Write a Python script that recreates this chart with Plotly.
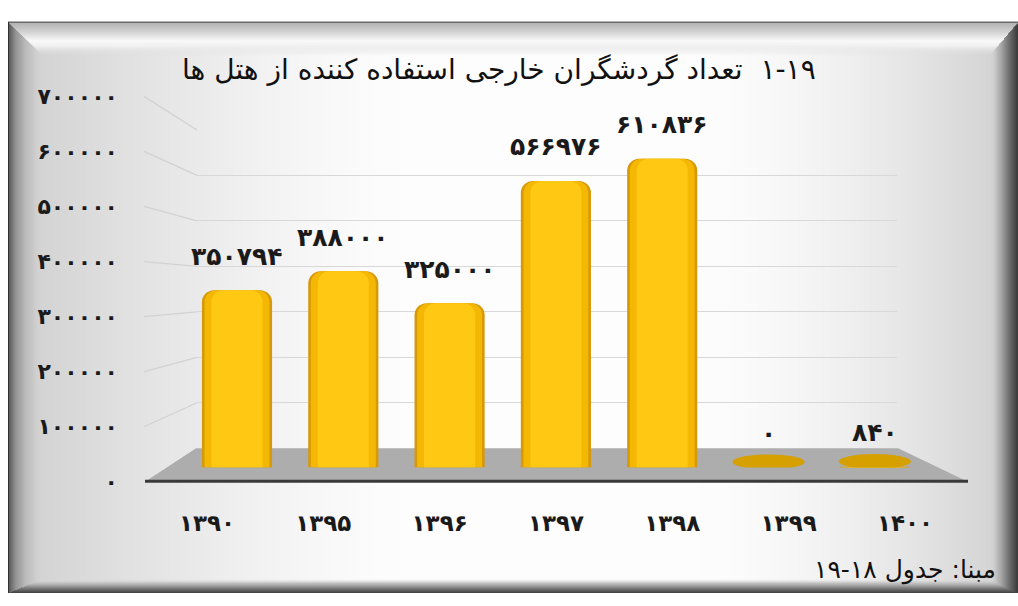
import base64
import struct
import zlib

import numpy as np
import plotly.graph_objects as go

# ---------------- data ----------------
years = ["۱۳۹۰", "۱۳۹۵", "۱۳۹۶", "۱۳۹۷", "۱۳۹۸", "۱۳۹۹", "۱۴۰۰"]
guests = [350794, 388000, 325000, 566976, 610836, 0, 840]
y_ticks = [0, 100000, 200000, 300000, 400000, 500000, 600000, 700000]

title_text = "\u200f" + "۱-۱۹" + "  " + "تعداد گردشگران خارجی استفاده کننده از هتل ها"
source_text = "مبنا: جدول ۱۸-۱۹"

FA = str.maketrans("0123456789", "۰۱۲۳۴۵۶۷۸۹")


def fa(n):
    return str(n).translate(FA)


W, H = 1018, 606
FONT = "DejaVu Sans"


def px(x):
    return x / W


def py(y):
    return 1 - y / H


# ---------------- framed gradient background ----------------
def png_uri(img):
    h, w, _ = img.shape
    raw = b"".join(b"\x00" + img[r].tobytes() for r in range(h))

    def chunk(tag, data):
        return (struct.pack(">I", len(data)) + tag + data
                + struct.pack(">I", zlib.crc32(tag + data) & 0xFFFFFFFF))

    data = (b"\x89PNG\r\n\x1a\n"
            + chunk(b"IHDR", struct.pack(">IIBBBBB", w, h, 8, 2, 0, 0, 0))
            + chunk(b"IDAT", zlib.compress(raw, 9))
            + chunk(b"IEND", b""))
    return "data:image/png;base64," + base64.b64encode(data).decode()


yy, xx = np.mgrid[0:H, 0:W].astype(float)
inner = (253
         - 46 * np.clip((400 - xx) / 390, 0, 1) ** 1.4
         - 40 * np.clip((xx - 700) / 290, 0, 1) ** 1.6)

dt = (yy - 11) / 34
dl = (xx - 9) / 33
dr = (1017 - xx) / 28
db = (605 - yy) / 14
stack = np.stack([dt, dl, dr, db])
which = np.argmin(stack, axis=0)
tmin = np.min(stack, axis=0)

profiles = [
    ([0, 0.25, 0.55, 0.75, 1.0], [180, 208, 250, 238, 222]),   # top
    ([0, 0.2, 0.5, 0.8, 1.0], [95, 150, 188, 205, 212]),       # left
    ([0, 0.3, 0.6, 0.85, 1.0], [60, 110, 170, 200, 212]),      # right
    ([0, 0.3, 0.6, 0.85, 1.0], [70, 120, 180, 210, 225]),      # bottom
]
bevel = np.zeros_like(inner)
tc = np.clip(tmin, 0, 1)
for k, (tp, vp) in enumerate(profiles):
    m = which == k
    bevel[m] = np.interp(tc[m], tp, vp)
s = np.clip((tmin - 0.7) / 0.3, 0, 1)
gray = np.where(tmin < 1, bevel * (1 - s) + inner * s, inner)
gray[(yy < 10) | (xx < 8)] = 255
gray[(yy == 10) & (xx >= 8)] = 50
gray[(xx == 8) & (yy >= 10)] = 50
g8 = np.clip(gray, 0, 255).astype(np.uint8)
bg = np.dstack([g8, g8, g8])

# ---------------- geometry of the three scales ----------------
# bars (front plane)
BAR_X0, BAR_STEP = 237, 106.3
BAR_Y0, BAR_PX = 475, 52.7 / 100000
# tick labels (front edge)
LAB_X0, LAB_STEP = 207, 116.33
LAB_Y0, LAB_PX = 490, 402 / 700000
# back wall gridlines
WALL_L, WALL_R = 197, 897
WALL_Y0, WALL_PX = 455, 332 / 700000
YMAX = 700000

n = len(years)
idx = list(range(n))

fig = go.Figure()

# gridline subplot (drawn first, underneath everything)
fig.add_trace(go.Scatter(x=[0, 1], y=[0, YMAX], mode="markers",
                         marker=dict(opacity=0), hoverinfo="skip",
                         showlegend=False, xaxis="x", yaxis="y"))
# tick-label subplot
fig.add_trace(go.Scatter(x=years, y=guests, mode="markers",
                         marker=dict(opacity=0), hoverinfo="skip",
                         showlegend=False, xaxis="x2", yaxis="y2"))

# bars: layered widths give a rounded, shaded column look
for width, color in [(0.66, "#D6990A"), (0.61, "#F4B804"), (0.48, "#FFC913")]:
    fig.add_trace(go.Bar(x=idx, y=guests, width=width, marker_color=color,
                         marker_line_width=0, hoverinfo="skip",
                         showlegend=False, xaxis="x3", yaxis="y3"))

shapes = []
# floor
floor_path = (f"M {px(145)},{py(490)} L {px(WALL_L - 1)},{py(WALL_Y0)} "
              f"L {px(WALL_R + 1)},{py(WALL_Y0)} L {px(968)},{py(490)} Z")
shapes.append(dict(type="path", path=floor_path, xref="paper", yref="paper",
                   fillcolor="#adadad", line_width=0, layer="below"))
shapes.append(dict(type="line", xref="paper", yref="paper",
                   x0=px(145), x1=px(968), y0=py(489.5), y1=py(489.5),
                   line=dict(color="#3a3a3a", width=3), layer="below"))
# side-wall gridline segments joining the tick labels to the back wall
for v in y_ticks[1:]:
    shapes.append(dict(type="line", xref="paper", yref="paper",
                       x0=px(144), y0=py(LAB_Y0 - v * LAB_PX),
                       x1=px(WALL_L), y1=py(WALL_Y0 - v * WALL_PX),
                       line=dict(color="#d2d2d2", width=1.3), layer="below"))
# flat tops of (near) zero-height bars
for i, v in enumerate(guests):
    if v < 0.01 * max(guests):
        shapes.append(dict(type="circle", xref="x3", yref="y3",
                           x0=i - 0.34, x1=i + 0.34,
                           ysizemode="pixel", yanchor=v, y0=-2, y1=13,
                           fillcolor="#D6A000", line_width=0))

annotations = []
for i, v in enumerate(guests):
    annotations.append(dict(x=i, y=v, xref="x3", yref="y3", yshift=34,
                            text=fa(v), showarrow=False,
                            font=dict(family=FONT, size=25, color="#1a1a1a",
                                      weight="bold")))
annotations.append(dict(x=px(499), y=py(60), xref="paper", yref="paper",
                        text=title_text, showarrow=False, yanchor="middle",
                        font=dict(family=FONT, size=28, color="#111111")))
annotations.append(dict(x=px(998), y=py(582), xref="paper", yref="paper",
                        text=source_text, showarrow=False, xanchor="right",
                        yanchor="middle",
                        font=dict(family=FONT, size=25, color="#111111")))

hidden = dict(showgrid=False, zeroline=False, showticklabels=False,
              showline=False, ticks="")

fig.update_layout(
    width=W, height=H,
    margin=dict(l=0, r=0, t=0, b=0),
    paper_bgcolor="white",
    plot_bgcolor="rgba(0,0,0,0)",
    barmode="overlay",
    barcornerradius=12,
    showlegend=False,
    images=[dict(source=png_uri(bg), xref="paper", yref="paper", x=0, y=1,
                 sizex=1, sizey=1, sizing="stretch", layer="below")],
    shapes=shapes,
    annotations=annotations,
    # back-wall gridlines
    xaxis=dict(domain=[px(WALL_L), px(WALL_R)], range=[0, 1], **hidden),
    yaxis=dict(domain=[py(WALL_Y0), py(WALL_Y0 - YMAX * WALL_PX)],
               range=[0, YMAX], tickvals=y_ticks[1:], showgrid=True,
               gridcolor="#d8d8d8", gridwidth=1.2, zeroline=False,
               showticklabels=False, showline=False, ticks=""),
    # category / value tick labels
    xaxis2=dict(domain=[px(LAB_X0 - LAB_STEP / 2),
                        px(LAB_X0 + (n - 0.5) * LAB_STEP)],
                type="category", categoryorder="array", categoryarray=years,
                range=[-0.5, n - 0.5], anchor="free", position=py(516),
                showgrid=False, zeroline=False, showline=False, ticks="",
                tickfont=dict(family=FONT, size=23, color="#1a1a1a",
                              weight="bold")),
    yaxis2=dict(domain=[py(LAB_Y0), py(LAB_Y0 - YMAX * LAB_PX)],
                range=[0, YMAX], tickvals=y_ticks,
                ticktext=[fa(v) for v in y_ticks],
                anchor="free", position=px(118), showgrid=False,
                zeroline=False, showline=False, ticks="",
                tickfont=dict(family=FONT, size=22, color="#1a1a1a",
                              weight="bold")),
    # bars
    xaxis3=dict(domain=[px(BAR_X0 - BAR_STEP / 2),
                        px(BAR_X0 + (n - 0.5) * BAR_STEP)],
                range=[-0.5, n - 0.5], anchor="y3", **hidden),
    yaxis3=dict(domain=[py(BAR_Y0), py(BAR_Y0 - YMAX * BAR_PX)],
                range=[0, YMAX], anchor="x3", **hidden),
)

fig.write_html("out.html")
